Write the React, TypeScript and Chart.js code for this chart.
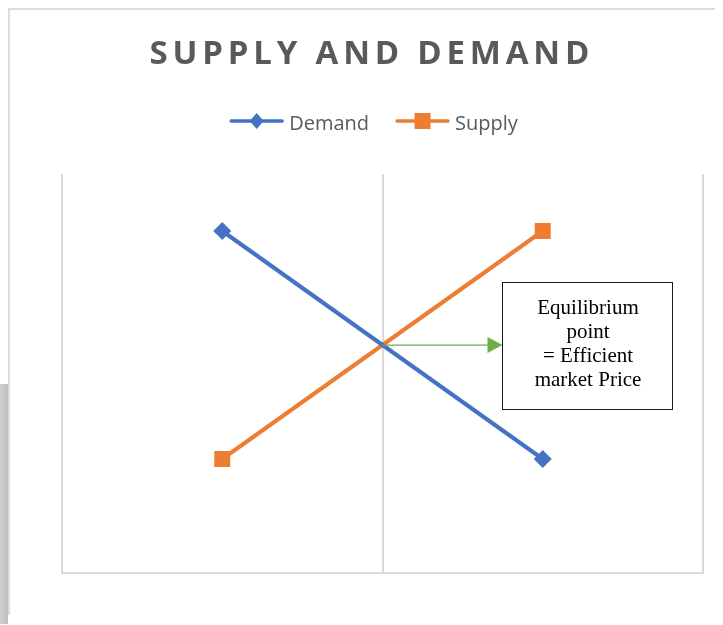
import React, { useEffect, useRef } from "react";
import { Chart, registerables } from "chart.js";

Chart.register(...registerables);

// ---- data ----
const categories = ["Low quantity", "High quantity"];
const seriesNames = ["Demand", "Supply"];
const demandValues = [6, 2];
const supplyValues = [2, 6];
const yMin = 0;
const yMax = 7;
const titleText = "SUPPLY AND DEMAND";
const noteLines = ["Equilibrium", "point", "= Efficient", "market Price"];
// equilibrium point (category index units, value units)
const equilibriumPoint = [0.5, 4];
// note box extent in data units: [xStart, xEnd], [yTop, yBottom]
const noteBoxX = [0.873, 1.403];
const noteBoxY = [5.1, 2.88];

const BLUE = "#4472C4";
const ORANGE = "#ED7D31";
const GREEN = "#70AD47";
const TEXT_GRAY = "#595959";
const GRID_GRAY = "#d9d9d9";

function drawMarker(ctx: CanvasRenderingContext2D, style: string, x: number, y: number, color: string) {
  ctx.save();
  ctx.fillStyle = color;
  ctx.beginPath();
  if (style === "rectRot") {
    ctx.moveTo(x, y - 8);
    ctx.lineTo(x + 7, y);
    ctx.lineTo(x, y + 8);
    ctx.lineTo(x - 7, y);
    ctx.closePath();
  } else {
    ctx.rect(x - 8, y - 8, 16, 16);
  }
  ctx.fill();
  ctx.restore();
}

const headerPlugin = {
  id: "headerPlugin",
  afterDraw(chart: any) {
    const ctx: CanvasRenderingContext2D = chart.ctx;
    const cx = chart.width / 2;
    // title
    ctx.save();
    ctx.font = 'bold 33px "Open Sans"';
    ctx.fillStyle = TEXT_GRAY;
    ctx.textAlign = "left";
    ctx.textBaseline = "alphabetic";
    const ls = 4.8;
    (ctx as any).letterSpacing = ls + "px";
    const tw = ctx.measureText(titleText).width - ls;
    ctx.fillText(titleText, cx + 7 - tw / 2, 54);
    (ctx as any).letterSpacing = "0px";
    ctx.restore();

    // legend
    ctx.save();
    ctx.font = '20px "Open Sans"';
    const iconW = 55;
    const gap = 5;
    const itemGap = 26;
    const items = chart.data.datasets.map((ds: any) => ({
      label: ds.label,
      color: ds.borderColor,
      style: ds.pointStyle,
      w: ctx.measureText(ds.label).width,
    }));
    let total = 0;
    items.forEach((it: any, i: number) => {
      total += iconW + gap + it.w + (i > 0 ? itemGap : 0);
    });
    let x = cx + 11 - total / 2;
    const ly = 111;
    items.forEach((it: any) => {
      ctx.strokeStyle = it.color;
      ctx.lineWidth = 3.5;
      ctx.lineCap = "round";
      ctx.beginPath();
      ctx.moveTo(x + 2, ly);
      ctx.lineTo(x + iconW - 2, ly);
      ctx.stroke();
      drawMarker(ctx, it.style, x + iconW / 2, ly, it.color);
      ctx.fillStyle = TEXT_GRAY;
      ctx.textAlign = "left";
      ctx.textBaseline = "alphabetic";
      ctx.fillText(it.label, x + iconW + gap, 120);
      x += iconW + gap + it.w + itemGap;
    });
    ctx.restore();
  },
};

const notePlugin = {
  id: "notePlugin",
  afterDatasetsDraw(chart: any) {
    const ctx: CanvasRenderingContext2D = chart.ctx;
    const xs = chart.scales.x;
    const ys = chart.scales.y;
    const ex = xs.getPixelForValue(equilibriumPoint[0]);
    const ey = ys.getPixelForValue(equilibriumPoint[1]);
    const bx0 = Math.round(xs.getPixelForValue(noteBoxX[0])) + 0.5;
    const bx1 = Math.round(xs.getPixelForValue(noteBoxX[1])) + 0.5;
    const by0 = Math.round(ys.getPixelForValue(noteBoxY[0])) + 0.5;
    const by1 = Math.round(ys.getPixelForValue(noteBoxY[1])) + 0.5;

    ctx.save();
    // arrow
    ctx.strokeStyle = GREEN;
    ctx.fillStyle = GREEN;
    ctx.lineWidth = 1.25;
    ctx.beginPath();
    ctx.moveTo(ex, ey);
    ctx.lineTo(bx0 - 12, ey);
    ctx.stroke();
    ctx.beginPath();
    ctx.moveTo(bx0, ey);
    ctx.lineTo(bx0 - 15, ey - 8);
    ctx.lineTo(bx0 - 15, ey + 8);
    ctx.closePath();
    ctx.fill();

    // box
    ctx.fillStyle = "#ffffff";
    ctx.fillRect(bx0, by0, bx1 - bx0, by1 - by0);
    ctx.strokeStyle = "#1a1a1a";
    ctx.lineWidth = 1;
    ctx.strokeRect(bx0, by0, bx1 - bx0, by1 - by0);

    // text
    ctx.fillStyle = "#000000";
    ctx.font = '21px "Liberation Serif", "Times New Roman", serif';
    ctx.textAlign = "center";
    ctx.textBaseline = "alphabetic";
    const mid = (bx0 + bx1) / 2 + 0.5;
    noteLines.forEach((line, i) => {
      ctx.fillText(line, mid, by0 + 31 + i * 24);
    });
    ctx.restore();
  },
};

export default function App() {
  const canvasRef = useRef<HTMLCanvasElement | null>(null);

  useEffect(() => {
    const canvas = canvasRef.current;
    if (!canvas) return;
    const chart = new Chart(canvas, {
      type: "line",
      data: {
        labels: categories,
        datasets: [
          {
            label: seriesNames[0],
            data: demandValues,
            borderColor: BLUE,
            backgroundColor: BLUE,
            borderWidth: 4,
            pointStyle: "rectRot",
            pointRadius: 9,
            pointBorderWidth: 0,
            pointBackgroundColor: BLUE,
            tension: 0,
          },
          {
            label: seriesNames[1],
            data: supplyValues,
            borderColor: ORANGE,
            backgroundColor: ORANGE,
            borderWidth: 4,
            pointStyle: "rect",
            pointRadius: 11.3,
            pointBorderWidth: 0,
            pointBackgroundColor: ORANGE,
            tension: 0,
          },
        ],
      },
      options: {
        responsive: false,
        animation: false,
        devicePixelRatio: 1,
        layout: { padding: { left: 52, right: 12, top: 164, bottom: 42 } },
        plugins: {
          legend: { display: false },
          title: { display: false },
          tooltip: { enabled: false },
        },
        scales: {
          x: {
            type: "category",
            offset: true,
            grid: {
              display: true,
              offset: true,
              color: GRID_GRAY,
              lineWidth: 2,
              drawTicks: false,
            },
            border: { display: true, color: GRID_GRAY, width: 2 },
            ticks: { display: false },
          },
          y: {
            display: false,
            min: yMin,
            max: yMax,
          },
        },
      },
      plugins: [notePlugin, headerPlugin],
    });
    return () => chart.destroy();
  }, []);

  return (
    <div>
      <div
        style={{
          position: "absolute",
          left: 0,
          top: 384,
          width: 8,
          height: 240,
          background: "linear-gradient(to right, #cfcfcf, #bdbdbd)",
        }}
      />
      <div
        style={{
          borderTop: "2px solid #dcdcdc",
          borderLeft: "2px solid #dcdcdc",
          height: 605,
          width: 713,
        }}
      >
        <canvas ref={canvasRef} width={705} height={605} style={{ display: "block" }} />
      </div>
    </div>
  );
}
